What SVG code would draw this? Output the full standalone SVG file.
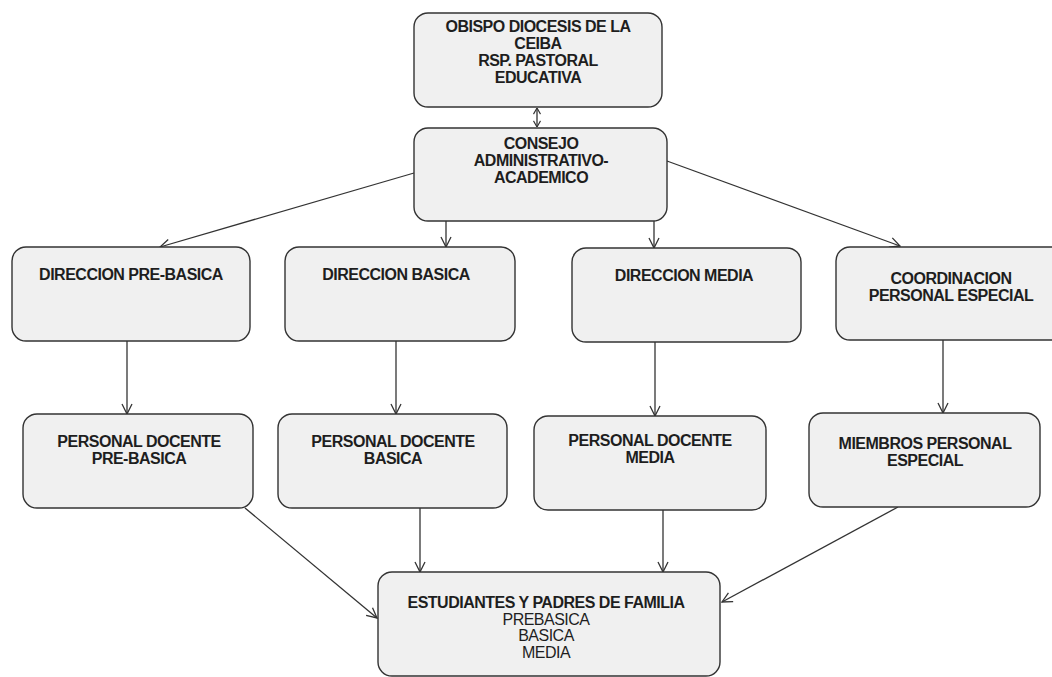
<svg xmlns="http://www.w3.org/2000/svg" width="1052" height="677" viewBox="0 0 1052 677">
<style>
.box{fill:#f0f0f0;stroke:#333;stroke-width:1.4}
.t{font-family:"Liberation Sans",Arial,sans-serif;font-size:16px;font-weight:bold;fill:#1e1e1e;text-anchor:middle;letter-spacing:-0.5px}
.r{font-weight:normal}
.c{fill:none;stroke:#333;stroke-width:1.3}
</style>
<defs>
<marker id="ah" viewBox="0 0 12 12" refX="11" refY="6" markerWidth="12" markerHeight="12" markerUnits="userSpaceOnUse" orient="auto-start-reverse">
<path d="M1,1 L11,6 L1,11" fill="none" stroke="#333" stroke-width="1.3"/>
</marker>
<marker id="sm" viewBox="0 0 8 10" refX="7.5" refY="5" markerWidth="7" markerHeight="9" markerUnits="userSpaceOnUse" orient="auto-start-reverse">
<path d="M0.5,1 L7.5,5 L0.5,9" fill="none" stroke="#333" stroke-width="1.3"/>
</marker>
</defs>
<rect width="1052" height="677" fill="#fff"/>
<g id="connectors">
<line class="c" x1="537" y1="108" x2="537" y2="127" marker-start="url(#sm)" marker-end="url(#sm)"/>
<line class="c" x1="414" y1="173" x2="160" y2="247" marker-end="url(#ah)"/>
<line class="c" x1="446" y1="221" x2="446" y2="247" marker-end="url(#ah)"/>
<line class="c" x1="654" y1="221" x2="654" y2="248" marker-end="url(#ah)"/>
<line class="c" x1="667" y1="161" x2="900" y2="246" marker-end="url(#ah)"/>
<line class="c" x1="127" y1="341" x2="127" y2="414" marker-end="url(#ah)"/>
<line class="c" x1="396" y1="341" x2="396" y2="414" marker-end="url(#ah)"/>
<line class="c" x1="655" y1="342" x2="655" y2="416" marker-end="url(#ah)"/>
<line class="c" x1="943" y1="340" x2="943" y2="413" marker-end="url(#ah)"/>
<line class="c" x1="245" y1="508" x2="377" y2="618" marker-end="url(#ah)"/>
<line class="c" x1="420" y1="508" x2="420" y2="572" marker-end="url(#ah)"/>
<line class="c" x1="663" y1="510" x2="663" y2="572" marker-end="url(#ah)"/>
<line class="c" x1="898" y1="507" x2="722" y2="602" marker-end="url(#ah)"/>
</g>
<g id="obispo">
<rect class="box" x="414" y="13" width="248" height="94" rx="14"/>
<text class="t" x="538" y="32">OBISPO DIOCESIS DE LA</text>
<text class="t" x="538" y="49">CEIBA</text>
<text class="t" x="538" y="66">RSP. PASTORAL</text>
<text class="t" x="538" y="83">EDUCATIVA</text>
</g>
<g id="consejo">
<rect class="box" x="414" y="128" width="253" height="93" rx="14"/>
<text class="t" x="541" y="149">CONSEJO</text>
<text class="t" x="541" y="166">ADMINISTRATIVO-</text>
<text class="t" x="541" y="183">ACADEMICO</text>
</g>
<g id="dir-prebasica">
<rect class="box" x="12" y="247" width="238" height="94" rx="14"/>
<text class="t" x="131" y="280">DIRECCION PRE-BASICA</text>
</g>
<g id="dir-basica">
<rect class="box" x="285" y="247" width="230" height="94" rx="14"/>
<text class="t" x="396" y="280">DIRECCION BASICA</text>
</g>
<g id="dir-media">
<rect class="box" x="572" y="248" width="229" height="94" rx="14"/>
<text class="t" x="684" y="281">DIRECCION MEDIA</text>
</g>
<g id="coordinacion">
<rect class="box" x="836" y="247" width="230" height="93" rx="14"/>
<text class="t" x="951" y="284">COORDINACION</text>
<text class="t" x="951" y="301">PERSONAL ESPECIAL</text>
</g>
<g id="docente-prebasica">
<rect class="box" x="23" y="414" width="230" height="94" rx="14"/>
<text class="t" x="139" y="447">PERSONAL DOCENTE</text>
<text class="t" x="139" y="464">PRE-BASICA</text>
</g>
<g id="docente-basica">
<rect class="box" x="278" y="414" width="229" height="94" rx="14"/>
<text class="t" x="393" y="447">PERSONAL DOCENTE</text>
<text class="t" x="393" y="464">BASICA</text>
</g>
<g id="docente-media">
<rect class="box" x="534" y="416" width="232" height="94" rx="14"/>
<text class="t" x="650" y="446">PERSONAL DOCENTE</text>
<text class="t" x="650" y="463">MEDIA</text>
</g>
<g id="miembros">
<rect class="box" x="809" y="413" width="231" height="94" rx="14"/>
<text class="t" x="925" y="449">MIEMBROS PERSONAL</text>
<text class="t" x="925" y="466">ESPECIAL</text>
</g>
<g id="estudiantes">
<rect class="box" x="378" y="572" width="342" height="104" rx="14"/>
<text class="t" x="546" y="608">ESTUDIANTES Y PADRES DE FAMILIA</text>
<text class="t r" x="546" y="624.5">PREBASICA</text>
<text class="t r" x="546" y="641">BASICA</text>
<text class="t r" x="546" y="657.5">MEDIA</text>
</g>
</svg>
